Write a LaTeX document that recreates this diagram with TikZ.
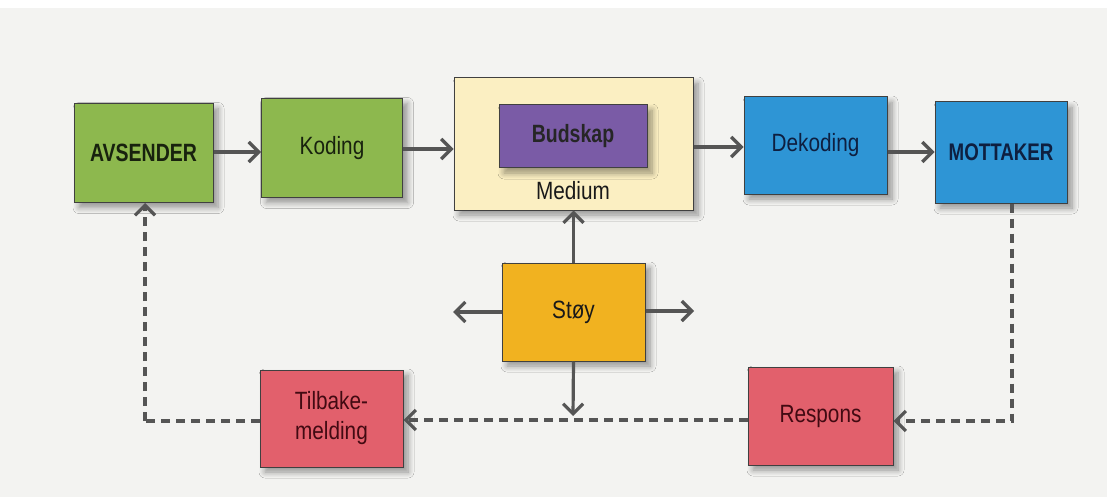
\documentclass[tikz,border=0pt]{standalone}
\usepackage{fontspec}
\setmainfont{Liberation Sans}
\newfontfamily\condfont[FakeStretch=0.83]{Liberation Sans}
\newfontfamily\condbold[FakeStretch=0.78]{Liberation Sans Bold}
\usetikzlibrary{arrows.meta,shadows.blur}
\definecolor{paper}{HTML}{F3F3F1}
\definecolor{cgreen}{HTML}{8DB84E}
\definecolor{cpurple}{HTML}{7A5BA6}
\definecolor{cyellow}{HTML}{FBEFC2}
\definecolor{corange}{HTML}{F1B220}
\definecolor{cblue}{HTML}{2E95D5}
\definecolor{cred}{HTML}{E2606C}
\definecolor{carrow}{HTML}{555555}
\definecolor{tgreen}{HTML}{18220E}
\definecolor{tblue}{HTML}{0E1F40}
\definecolor{tred}{HTML}{420A12}
\tikzset{
  shad/.style={blur shadow={shadow xshift=5pt, shadow yshift=-5pt, shadow blur steps=8, shadow blur radius=6pt, shadow opacity=40}},
  box/.style={draw=black!75, line width=1pt, minimum width=#1, inner sep=0pt, align=center, shad,
    font=\condfont\fontsize{25}{27}\selectfont},
  box/.default=140pt,
  boldtxt/.style={font=\condbold\fontsize{25}{27}\selectfont},
  flow/.style={draw=carrow, line width=3.2pt, -{Straight Barb[length=10pt,width=20pt,line width=3.2pt]}},
  back/.style={flow, dash pattern=on 9pt off 6pt}
}
\begin{document}
\begin{tikzpicture}[x=1pt,y=-1pt]
\fill[paper] (0,8) rectangle (1107,497);
\useasboundingbox (0,0) rectangle (1107,497);
% nodes
\node[box=139pt, minimum height=99pt, fill=cgreen, text=tgreen, boldtxt] (avs) at (143.5,153) {AVSENDER};
\node[box=141pt, minimum height=99pt, fill=cgreen, text=tgreen] (kod) at (332,148) {Koding};
\node[box=239pt, minimum height=132pt, fill=cyellow, text=black!85] (med) at (573.5,144) {};
\node[draw=black!75, line width=1pt, fill=cpurple, minimum width=148pt, minimum height=63pt, inner sep=0pt,
  shad, text=black!85, boldtxt] (bud) at (573,136.5) {Budskap};
\node[text=black!90, font=\condfont\fontsize{25}{27}\selectfont, inner sep=0pt] (medt) at (573,191) {Medium};
\node[box=143pt, minimum height=97pt, fill=cblue, text=tblue] (dek) at (815.5,145.5) {Dekoding};
\node[box=132pt, minimum height=101pt, fill=cblue, text=tblue, font=\condbold\fontsize{24}{27}\selectfont] (mot) at (1001,152.5) {MOTTAKER};
\node[box=143pt, minimum height=98pt, fill=corange, text=black!90] (stoy) at (573.5,312) {Støy};
\node[box=143pt, minimum height=97pt, fill=cred, text=tred, font=\condfont\fontsize{25}{30}\selectfont] (tilb) at (331.5,418.5) {Tilbake-\\melding};
\node[box=145pt, minimum height=98pt, fill=cred, text=tred] (resp) at (820.5,416) {Respons};
% coordinates
\coordinate (sl) at (453,312);
\coordinate (sr) at (694,311);
\coordinate (sd) at (573,416);
\coordinate (mc) at (1012,421);
\coordinate (ac) at (145,421);
% forward arrows
\draw[flow] (avs.east |- 0,152) -- (kod.west |- 0,152);
\draw[flow] (kod.east |- 0,149) -- (med.west |- 0,149);
\draw[flow] (med.east |- 0,147) -- (dek.west |- 0,147);
\draw[flow] (dek.east |- 0,152) -- (mot.west |- 0,152);
% noise arrows
\draw[flow] (stoy.north) -- (med.south);
\draw[flow] (stoy.west) -- (sl);
\draw[flow] (stoy.east |- sr) -- (sr);
\draw[flow] (stoy.south) -- (sd);
% feedback
\draw[back] (mot.south -| mc) -- (mc) -- (resp.east |- mc);
\draw[back] (resp.west |- 0,420) -- (tilb.east |- 0,420);
\draw[back, -] (tilb.west |- ac) -- (ac);
\draw[back] (ac) -- (avs.south -| ac);
\end{tikzpicture}
\end{document}
